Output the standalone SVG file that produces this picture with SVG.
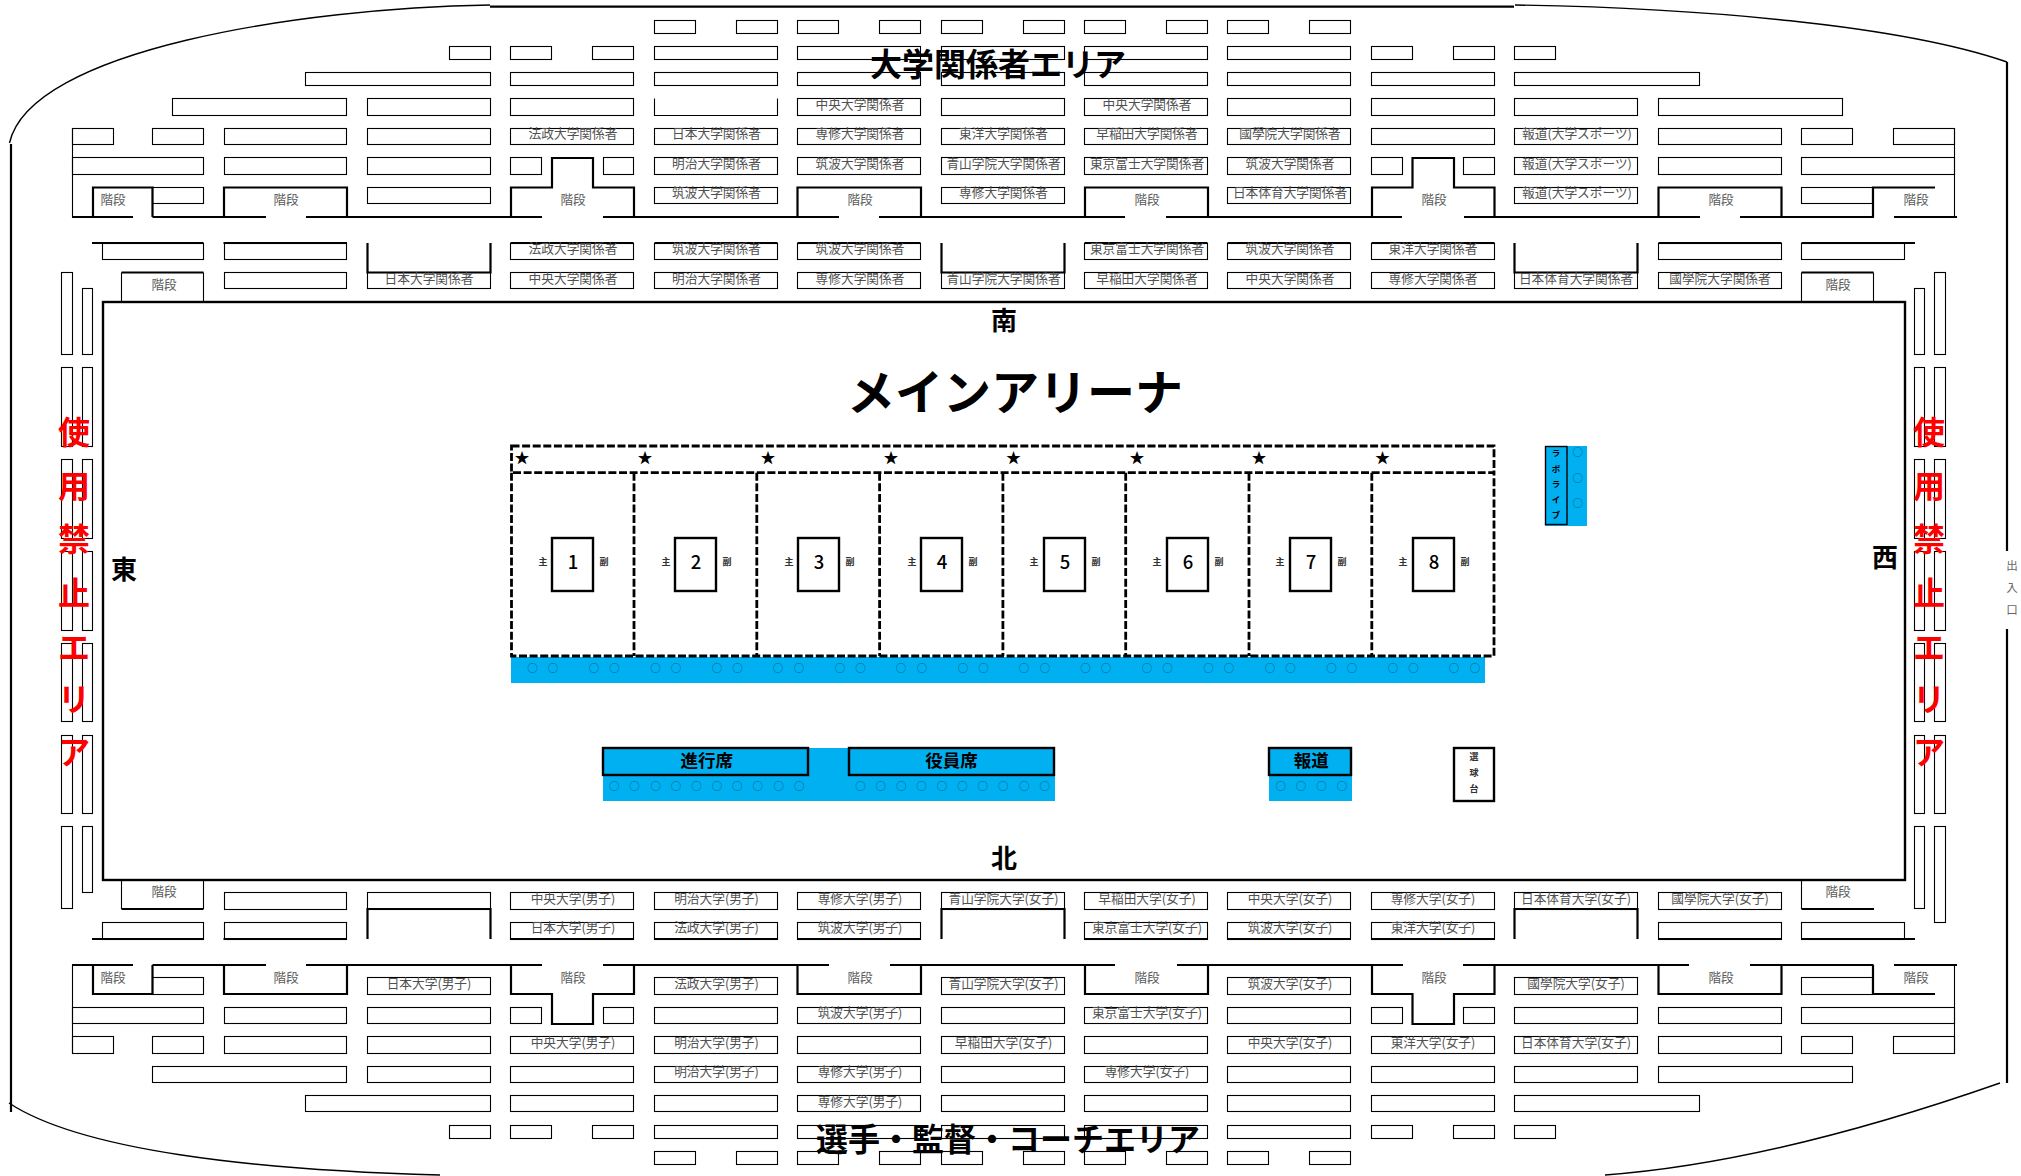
<svg xmlns="http://www.w3.org/2000/svg" width="2021" height="1176" viewBox="0 0 2021 1176">
<style>
text{font-family:"Noto Sans CJK JP","Liberation Sans",sans-serif;text-anchor:middle;dominant-baseline:central;transform:translateY(-1.7px)}
.s rect{fill:none;stroke:#000;stroke-width:1.1}
.o{fill:none;stroke:#000;stroke-width:1.1}
.t{fill:none;stroke:#000;stroke-width:2.2}
.w{fill:none;stroke:#000;stroke-width:1.4}
.d{fill:none;stroke:#000;stroke-width:2.8;stroke-dasharray:8 2.6}
.b{fill:#00B0F0}
.k{fill:none;stroke:#000;stroke-width:2.4}
.l{font-size:12.7px;fill:#505050}
.g{font-size:12.6px;fill:#5a5a5a}
.h{font-size:32px;font-weight:700;fill:#000}
.n{font-size:26px;font-weight:700;fill:#000}
.r{font-size:32px;font-weight:700;fill:#f00}
.c{font-size:18.5px;font-weight:500;fill:#000}
.m{font-size:9px;font-weight:700;fill:#333}
.a{font-size:15px;fill:#000}
.e{font-size:10.5px;font-weight:500;fill:#0a5f85}
.j{font-size:17.5px;font-weight:700;fill:#000}
.v{font-size:8.5px;font-weight:700;fill:#000}
.u{font-size:9px;font-weight:700;fill:#333}
.x{font-size:11.5px;fill:#666}
</style>
<g id="outline">
<path class="w" d="M490 5C300 8 30 50 9.5 143"/>
<path class="w" d="M1515 5C1700 8 1900 25 2007 62"/>
<path class="w" d="M9 1103C80 1150 250 1170 440 1175"/>
<path class="w" d="M2000 1083C1880 1125 1740 1165 1605 1175"/>
<path class="t" d="M490 6.7H1514M11 144V1112M2007 62V551M2007 629V1083"/>
</g>
<g id="seats-top" class="s">
<rect x="654.5" y="20.5" width="41" height="13"/><rect x="736.5" y="20.5" width="41" height="13"/><rect x="797.5" y="20.5" width="41" height="13"/><rect x="879.5" y="20.5" width="41" height="13"/><rect x="941.5" y="20.5" width="41" height="13"/><rect x="1023.5" y="20.5" width="41" height="13"/><rect x="1084.5" y="20.5" width="41" height="13"/><rect x="1166.5" y="20.5" width="41" height="13"/><rect x="1227.5" y="20.5" width="41" height="13"/><rect x="1309.5" y="20.5" width="41" height="13"/>
<rect x="449.5" y="46.5" width="41" height="13"/><rect x="510.5" y="46.5" width="41" height="13"/><rect x="592.5" y="46.5" width="41" height="13"/><rect x="654.5" y="46.5" width="123" height="13"/><rect x="797.5" y="46.5" width="123" height="13"/><rect x="941.5" y="46.5" width="123" height="13"/><rect x="1084.5" y="46.5" width="123" height="13"/><rect x="1227.5" y="46.5" width="123" height="13"/><rect x="1371.5" y="46.5" width="41" height="13"/><rect x="1453.5" y="46.5" width="41" height="13"/><rect x="1514.5" y="46.5" width="41" height="13"/>
<rect x="305.5" y="72.5" width="185" height="13"/><rect x="510.5" y="72.5" width="123" height="13"/><rect x="654.5" y="72.5" width="123" height="13"/><rect x="797.5" y="72.5" width="123" height="13"/><rect x="941.5" y="72.5" width="123" height="13"/><rect x="1084.5" y="72.5" width="123" height="13"/><rect x="1227.5" y="72.5" width="123" height="13"/><rect x="1371.5" y="72.5" width="123" height="13"/><rect x="1514.5" y="72.5" width="185" height="13"/>
<rect x="172.5" y="98.5" width="174" height="17"/><rect x="367.5" y="98.5" width="123" height="17"/><rect x="510.5" y="98.5" width="123" height="17"/><rect x="797.5" y="98.5" width="123" height="17"/><rect x="941.5" y="98.5" width="123" height="17"/><rect x="1084.5" y="98.5" width="123" height="17"/><rect x="1227.5" y="98.5" width="123" height="17"/><rect x="1371.5" y="98.5" width="123" height="17"/><rect x="1514.5" y="98.5" width="123" height="17"/><rect x="1658.5" y="98.5" width="184" height="17"/>
<rect x="72.5" y="128.5" width="41" height="16"/><rect x="152.5" y="128.5" width="51" height="16"/><rect x="224.5" y="128.5" width="122" height="16"/><rect x="367.5" y="128.5" width="123" height="16"/><rect x="510.5" y="128.5" width="123" height="16"/><rect x="654.5" y="128.5" width="123" height="16"/><rect x="797.5" y="128.5" width="123" height="16"/><rect x="941.5" y="128.5" width="123" height="16"/><rect x="1084.5" y="128.5" width="123" height="16"/><rect x="1227.5" y="128.5" width="123" height="16"/><rect x="1371.5" y="128.5" width="123" height="16"/><rect x="1514.5" y="128.5" width="123" height="16"/><rect x="1658.5" y="128.5" width="123" height="16"/><rect x="1801.5" y="128.5" width="51" height="16"/><rect x="1893.5" y="128.5" width="61" height="16"/>
<rect x="72.5" y="157.5" width="131" height="17"/><rect x="224.5" y="157.5" width="122" height="17"/><rect x="367.5" y="157.5" width="123" height="17"/><rect x="510.5" y="157.5" width="31" height="17"/><rect x="603.5" y="157.5" width="30" height="17"/><rect x="654.5" y="157.5" width="123" height="17"/><rect x="797.5" y="157.5" width="123" height="17"/><rect x="941.5" y="157.5" width="123" height="17"/><rect x="1084.5" y="157.5" width="123" height="17"/><rect x="1227.5" y="157.5" width="123" height="17"/><rect x="1371.5" y="157.5" width="31" height="17"/><rect x="1463.5" y="157.5" width="31" height="17"/><rect x="1514.5" y="157.5" width="123" height="17"/><rect x="1658.5" y="157.5" width="123" height="17"/><rect x="1801.5" y="157.5" width="153" height="17"/>
<rect x="152.5" y="187.5" width="51" height="16"/><rect x="367.5" y="187.5" width="123" height="16"/><rect x="654.5" y="187.5" width="123" height="16"/><rect x="941.5" y="187.5" width="123" height="16"/><rect x="1227.5" y="187.5" width="123" height="16"/><rect x="1514.5" y="187.5" width="123" height="16"/><rect x="1801.5" y="187.5" width="71" height="16"/>
<rect x="102.5" y="243.5" width="101" height="16"/><rect x="224.5" y="243.5" width="122" height="16"/><rect x="510.5" y="243.5" width="123" height="16"/><rect x="654.5" y="243.5" width="123" height="16"/><rect x="797.5" y="243.5" width="123" height="16"/><rect x="1084.5" y="243.5" width="123" height="16"/><rect x="1227.5" y="243.5" width="123" height="16"/><rect x="1371.5" y="243.5" width="123" height="16"/><rect x="1658.5" y="243.5" width="123" height="16"/><rect x="1801.5" y="243.5" width="103" height="16"/>
<rect x="224.5" y="272.5" width="122" height="16"/><rect x="367.5" y="272.5" width="123" height="16"/><rect x="510.5" y="272.5" width="123" height="16"/><rect x="654.5" y="272.5" width="123" height="16"/><rect x="797.5" y="272.5" width="123" height="16"/><rect x="941.5" y="272.5" width="123" height="16"/><rect x="1084.5" y="272.5" width="123" height="16"/><rect x="1227.5" y="272.5" width="123" height="16"/><rect x="1371.5" y="272.5" width="123" height="16"/><rect x="1514.5" y="272.5" width="123" height="16"/><rect x="1658.5" y="272.5" width="123" height="16"/>
</g>
<g id="seats-bottom" class="s">
<rect x="224.5" y="892.5" width="122" height="17"/><rect x="367.5" y="892.5" width="123" height="17"/><rect x="510.5" y="892.5" width="123" height="17"/><rect x="654.5" y="892.5" width="123" height="17"/><rect x="797.5" y="892.5" width="123" height="17"/><rect x="941.5" y="892.5" width="123" height="17"/><rect x="1084.5" y="892.5" width="123" height="17"/><rect x="1227.5" y="892.5" width="123" height="17"/><rect x="1371.5" y="892.5" width="123" height="17"/><rect x="1514.5" y="892.5" width="123" height="17"/><rect x="1658.5" y="892.5" width="123" height="17"/>
<rect x="102.5" y="922.5" width="101" height="17"/><rect x="224.5" y="922.5" width="122" height="17"/><rect x="510.5" y="922.5" width="123" height="17"/><rect x="654.5" y="922.5" width="123" height="17"/><rect x="797.5" y="922.5" width="123" height="17"/><rect x="1084.5" y="922.5" width="123" height="17"/><rect x="1227.5" y="922.5" width="123" height="17"/><rect x="1371.5" y="922.5" width="123" height="17"/><rect x="1658.5" y="922.5" width="123" height="17"/><rect x="1801.5" y="922.5" width="103" height="17"/>
<rect x="152.5" y="977.5" width="51" height="17"/><rect x="367.5" y="977.5" width="123" height="17"/><rect x="654.5" y="977.5" width="123" height="17"/><rect x="941.5" y="977.5" width="123" height="17"/><rect x="1227.5" y="977.5" width="123" height="17"/><rect x="1514.5" y="977.5" width="123" height="17"/><rect x="1801.5" y="977.5" width="71" height="17"/>
<rect x="72.5" y="1007.5" width="131" height="16"/><rect x="224.5" y="1007.5" width="122" height="16"/><rect x="367.5" y="1007.5" width="123" height="16"/><rect x="510.5" y="1007.5" width="31" height="16"/><rect x="603.5" y="1007.5" width="30" height="16"/><rect x="654.5" y="1007.5" width="123" height="16"/><rect x="797.5" y="1007.5" width="123" height="16"/><rect x="941.5" y="1007.5" width="123" height="16"/><rect x="1084.5" y="1007.5" width="123" height="16"/><rect x="1227.5" y="1007.5" width="123" height="16"/><rect x="1371.5" y="1007.5" width="31" height="16"/><rect x="1463.5" y="1007.5" width="31" height="16"/><rect x="1514.5" y="1007.5" width="123" height="16"/><rect x="1658.5" y="1007.5" width="123" height="16"/><rect x="1801.5" y="1007.5" width="153" height="16"/>
<rect x="72.5" y="1036.5" width="41" height="17"/><rect x="152.5" y="1036.5" width="51" height="17"/><rect x="224.5" y="1036.5" width="122" height="17"/><rect x="367.5" y="1036.5" width="123" height="17"/><rect x="510.5" y="1036.5" width="123" height="17"/><rect x="654.5" y="1036.5" width="123" height="17"/><rect x="797.5" y="1036.5" width="123" height="17"/><rect x="941.5" y="1036.5" width="123" height="17"/><rect x="1084.5" y="1036.5" width="123" height="17"/><rect x="1227.5" y="1036.5" width="123" height="17"/><rect x="1371.5" y="1036.5" width="123" height="17"/><rect x="1514.5" y="1036.5" width="123" height="17"/><rect x="1658.5" y="1036.5" width="123" height="17"/><rect x="1801.5" y="1036.5" width="51" height="17"/><rect x="1893.5" y="1036.5" width="61" height="17"/>
<rect x="152.5" y="1066.5" width="194" height="16"/><rect x="367.5" y="1066.5" width="123" height="16"/><rect x="510.5" y="1066.5" width="123" height="16"/><rect x="654.5" y="1066.5" width="123" height="16"/><rect x="797.5" y="1066.5" width="123" height="16"/><rect x="941.5" y="1066.5" width="123" height="16"/><rect x="1084.5" y="1066.5" width="123" height="16"/><rect x="1227.5" y="1066.5" width="123" height="16"/><rect x="1371.5" y="1066.5" width="123" height="16"/><rect x="1514.5" y="1066.5" width="123" height="16"/><rect x="1658.5" y="1066.5" width="194" height="16"/>
<rect x="305.5" y="1095.5" width="185" height="16"/><rect x="510.5" y="1095.5" width="123" height="16"/><rect x="654.5" y="1095.5" width="123" height="16"/><rect x="797.5" y="1095.5" width="123" height="16"/><rect x="941.5" y="1095.5" width="123" height="16"/><rect x="1084.5" y="1095.5" width="123" height="16"/><rect x="1227.5" y="1095.5" width="123" height="16"/><rect x="1371.5" y="1095.5" width="123" height="16"/><rect x="1514.5" y="1095.5" width="185" height="16"/>
<rect x="449.5" y="1125.5" width="41" height="13"/><rect x="510.5" y="1125.5" width="41" height="13"/><rect x="592.5" y="1125.5" width="41" height="13"/><rect x="654.5" y="1125.5" width="123" height="13"/><rect x="797.5" y="1125.5" width="123" height="13"/><rect x="941.5" y="1125.5" width="123" height="13"/><rect x="1084.5" y="1125.5" width="123" height="13"/><rect x="1227.5" y="1125.5" width="123" height="13"/><rect x="1371.5" y="1125.5" width="41" height="13"/><rect x="1453.5" y="1125.5" width="41" height="13"/><rect x="1514.5" y="1125.5" width="41" height="13"/>
<rect x="654.5" y="1151.5" width="41" height="13"/><rect x="736.5" y="1151.5" width="41" height="13"/><rect x="797.5" y="1151.5" width="41" height="13"/><rect x="879.5" y="1151.5" width="41" height="13"/><rect x="941.5" y="1151.5" width="41" height="13"/><rect x="1023.5" y="1151.5" width="41" height="13"/><rect x="1084.5" y="1151.5" width="41" height="13"/><rect x="1166.5" y="1151.5" width="41" height="13"/><rect x="1227.5" y="1151.5" width="41" height="13"/><rect x="1309.5" y="1151.5" width="41" height="13"/>
</g>
<g id="side-strips" class="s">
<rect x="61.5" y="272.5" width="11" height="82"/><rect x="61.5" y="367.5" width="11" height="79"/><rect x="61.5" y="459.5" width="11" height="79"/><rect x="61.5" y="551.5" width="11" height="79"/><rect x="61.5" y="643.5" width="11" height="78"/><rect x="61.5" y="735.5" width="11" height="78"/><rect x="61.5" y="826.5" width="11" height="82"/>
<rect x="82.5" y="288.5" width="10" height="66"/><rect x="82.5" y="367.5" width="10" height="79"/><rect x="82.5" y="459.5" width="10" height="79"/><rect x="82.5" y="551.5" width="10" height="79"/><rect x="82.5" y="643.5" width="10" height="78"/><rect x="82.5" y="735.5" width="10" height="78"/><rect x="82.5" y="826.5" width="10" height="66"/>
<rect x="1914.5" y="288.5" width="10" height="66"/><rect x="1914.5" y="367.5" width="10" height="79"/><rect x="1914.5" y="459.5" width="10" height="79"/><rect x="1914.5" y="551.5" width="10" height="79"/><rect x="1914.5" y="643.5" width="10" height="78"/><rect x="1914.5" y="735.5" width="10" height="78"/><rect x="1914.5" y="826.5" width="10" height="82"/>
<rect x="1934.5" y="272.5" width="11" height="82"/><rect x="1934.5" y="367.5" width="11" height="79"/><rect x="1934.5" y="459.5" width="11" height="79"/><rect x="1934.5" y="551.5" width="11" height="79"/><rect x="1934.5" y="643.5" width="11" height="78"/><rect x="1934.5" y="735.5" width="11" height="78"/><rect x="1934.5" y="826.5" width="11" height="96"/>
</g>
<g id="walls">
<path class="o" d="M654.5 98.5V115.5H777.5V98.5M72.5 128V217M1954.5 128V217M72.5 965V1053M1954.5 965V1053M121.5 272.5V301M203.5 272.5V301M1801.5 272.5V301M1873.5 272.5V301M121.5 880V909M203.5 880V909M1801.5 880V909"/>
<path class="t" d="M72 217H133M152.5 217H266M306 217H542M603 217H839M879 217H1125M1166 217H1402M1464 217H1700M1740 217H1874M1894 217H1957"/>
<path class="t" d="M93 217V187.5H152.5V217M224 217V187.5H347V217M511 217V187.5H552V158H593V187.5H634V217M797.5 217V187.5H921V217M1085 217V187.5H1208V217M1372 217V187.5H1412.5V158H1454V187.5H1494.5V217M1658.5 217V187.5H1781.5V217M1873 217V187.5H1935"/>
<path class="t" d="M92 243H203.5M223.5 243H347M510.5 243H633.5M654.5 243H777.5M797.5 243H920.5M1084.5 243H1207.5M1227.5 243H1350.5M1371.5 243H1494.5M1658.5 243H1781.5M1801.5 243H1915"/>
<path class="t" d="M367.5 243V272.5H490.5V243M941.5 243V272.5H1064.5V243M1514.5 243V272.5H1637.5V243M121.5 272.5H203.5M1801.5 272.5H1873.5"/>
<path class="t" d="M121.5 909H203.5M1801.5 909H1874M92 939H203.5M223.5 939H347M510.5 939H633.5M654.5 939H777.5M797.5 939H920.5M1084.5 939H1207.5M1227.5 939H1350.5M1371.5 939H1494.5M1658.5 939H1781.5M1801.5 939H1915"/>
<path class="t" d="M367.5 939V909H490.5V939M941.5 939V909H1064.5V939M1514.5 939V909H1637.5V939"/>
<path class="t" d="M72 965H133M152.5 965H266M306 965H542M603 965H829M890 965H1115M1177 965H1403M1463 965H1689M1750 965H1873.5M1894 965H1957"/>
<path class="t" d="M93 965V994H152.5V965M224 965V994H347V965M511 965V994H552V1024H593V994H634V965M797.5 965V994H921V965M1085 965V994H1208V965M1372 965V994H1412.5V1024H1454V994H1494.5V965M1658.5 965V994H1781.5V965M1873 965V994H1935"/>
<rect class="k" x="103" y="302" width="1802" height="578"/>
</g>
<g id="stair-labels" class="g">
<text x="113" y="200">階段</text><text x="286" y="200">階段</text><text x="573" y="200">階段</text><text x="860" y="200">階段</text><text x="1147" y="200">階段</text><text x="1434" y="200">階段</text><text x="1721" y="200">階段</text><text x="1916" y="200">階段</text>
<text x="164" y="285">階段</text><text x="1838" y="285">階段</text><text x="164" y="892.7">階段</text><text x="1838" y="892.7">階段</text>
<text x="113" y="978">階段</text><text x="286" y="978">階段</text><text x="573" y="978">階段</text><text x="860" y="978">階段</text><text x="1147" y="978">階段</text><text x="1434" y="978">階段</text><text x="1721" y="978">階段</text><text x="1916" y="978">階段</text>
</g>
<g id="seat-labels-top" class="l">
<text x="860" y="105.3">中央大学関係者</text><text x="1147" y="105.3">中央大学関係者</text>
<text x="573" y="134.7">法政大学関係者</text><text x="716.5" y="134.7">日本大学関係者</text><text x="860" y="134.7">専修大学関係者</text><text x="1003.5" y="134.7">東洋大学関係者</text><text x="1147" y="134.7">早稲田大学関係者</text><text x="1290" y="134.7">國學院大学関係者</text><text x="1577" y="134.7">報道(大学スポーツ)</text>
<text x="716.5" y="164">明治大学関係者</text><text x="860" y="164">筑波大学関係者</text><text x="1003.5" y="164">青山学院大学関係者</text><text x="1147" y="164">東京富士大学関係者</text><text x="1290" y="164">筑波大学関係者</text><text x="1577" y="164">報道(大学スポーツ)</text>
<text x="716.5" y="193.3">筑波大学関係者</text><text x="1003.5" y="193.3">専修大学関係者</text><text x="1290" y="193.3">日本体育大学関係者</text><text x="1577" y="193.3">報道(大学スポーツ)</text>
<text x="573" y="249.3">法政大学関係者</text><text x="716.5" y="249.3">筑波大学関係者</text><text x="860" y="249.3">筑波大学関係者</text><text x="1147" y="249.3">東京富士大学関係者</text><text x="1290" y="249.3">筑波大学関係者</text><text x="1433" y="249.3">東洋大学関係者</text>
<text x="429" y="279.3">日本大学関係者</text><text x="573" y="279.3">中央大学関係者</text><text x="716.5" y="279.3">明治大学関係者</text><text x="860" y="279.3">専修大学関係者</text><text x="1003.5" y="279.3">青山学院大学関係者</text><text x="1147" y="279.3">早稲田大学関係者</text><text x="1290" y="279.3">中央大学関係者</text><text x="1433" y="279.3">専修大学関係者</text><text x="1576" y="279.3">日本体育大学関係者</text><text x="1720" y="279.3">國學院大学関係者</text>
</g>
<g id="seat-labels-bottom" class="l">
<text x="573" y="899.3">中央大学(男子)</text><text x="716.5" y="899.3">明治大学(男子)</text><text x="860" y="899.3">専修大学(男子)</text><text x="1003.5" y="899.3">青山学院大学(女子)</text><text x="1147" y="899.3">早稲田大学(女子)</text><text x="1290" y="899.3">中央大学(女子)</text><text x="1433" y="899.3">専修大学(女子)</text><text x="1576" y="899.3">日本体育大学(女子)</text><text x="1720" y="899.3">國學院大学(女子)</text>
<text x="573" y="928.3">日本大学(男子)</text><text x="716.5" y="928.3">法政大学(男子)</text><text x="860" y="928.3">筑波大学(男子)</text><text x="1147" y="928.3">東京富士大学(女子)</text><text x="1290" y="928.3">筑波大学(女子)</text><text x="1433" y="928.3">東洋大学(女子)</text>
<text x="429" y="984.3">日本大学(男子)</text><text x="716.5" y="984.3">法政大学(男子)</text><text x="1003.5" y="984.3">青山学院大学(女子)</text><text x="1290" y="984.3">筑波大学(女子)</text><text x="1576" y="984.3">國學院大学(女子)</text>
<text x="860" y="1013.3">筑波大学(男子)</text><text x="1147" y="1013.3">東京富士大学(女子)</text>
<text x="573" y="1043">中央大学(男子)</text><text x="716.5" y="1043">明治大学(男子)</text><text x="1003.5" y="1043">早稲田大学(女子)</text><text x="1290" y="1043">中央大学(女子)</text><text x="1433" y="1043">東洋大学(女子)</text><text x="1576" y="1043">日本体育大学(女子)</text>
<text x="716.5" y="1072">明治大学(男子)</text><text x="860" y="1072">専修大学(男子)</text><text x="1147" y="1072">専修大学(女子)</text>
<text x="860" y="1102.7">専修大学(男子)</text>
</g>
<g id="courts">
<rect class="b" x="511" y="657" width="974" height="26"/>
<path class="d" d="M511.5 446H1494V472.7H511.5ZM511.5 472.7V656H1494V472.7M634 472.7V656M756.8 472.7V656M879.6 472.7V656M1002.9 472.7V656M1125.7 472.7V656M1249 472.7V656M1371.8 472.7V656"/>
<g class="k"><rect x="552" y="538" width="41" height="53"/><rect x="675" y="538" width="41" height="53"/><rect x="798" y="538" width="41" height="53"/><rect x="921" y="538" width="41" height="53"/><rect x="1044" y="538" width="41" height="53"/><rect x="1167" y="538" width="41" height="53"/><rect x="1290" y="538" width="41" height="53"/><rect x="1413" y="538" width="41" height="53"/></g>
<g class="c"><text x="573" y="563">1</text><text x="696" y="563">2</text><text x="819" y="563">3</text><text x="942" y="563">4</text><text x="1065" y="563">5</text><text x="1188" y="563">6</text><text x="1311" y="563">7</text><text x="1434" y="563">8</text></g>
<g class="m"><text x="543" y="563">主</text><text x="666" y="563">主</text><text x="789" y="563">主</text><text x="912" y="563">主</text><text x="1034" y="563">主</text><text x="1157" y="563">主</text><text x="1280" y="563">主</text><text x="1403" y="563">主</text>
<text x="604" y="563">副</text><text x="727" y="563">副</text><text x="850" y="563">副</text><text x="973" y="563">副</text><text x="1096" y="563">副</text><text x="1219" y="563">副</text><text x="1342" y="563">副</text><text x="1465" y="563">副</text></g>
<g class="a"><text x="522" y="458.7">★</text><text x="645" y="458.7">★</text><text x="768" y="458.7">★</text><text x="891" y="458.7">★</text><text x="1013.5" y="458.7">★</text><text x="1137" y="458.7">★</text><text x="1259" y="458.7">★</text><text x="1382.5" y="458.7">★</text></g>
<g class="e"><text x="532.5" y="669">○</text><text x="553" y="669">○</text><text x="594" y="669">○</text><text x="614.5" y="669">○</text><text x="655.5" y="669">○</text><text x="676" y="669">○</text><text x="717" y="669">○</text><text x="737.5" y="669">○</text><text x="778" y="669">○</text><text x="799" y="669">○</text><text x="840" y="669">○</text><text x="860.5" y="669">○</text><text x="901" y="669">○</text><text x="922" y="669">○</text><text x="963" y="669">○</text><text x="983.5" y="669">○</text><text x="1024" y="669">○</text><text x="1045" y="669">○</text><text x="1085.5" y="669">○</text><text x="1106" y="669">○</text><text x="1147" y="669">○</text><text x="1167.5" y="669">○</text><text x="1208.5" y="669">○</text><text x="1229" y="669">○</text><text x="1270" y="669">○</text><text x="1290.5" y="669">○</text><text x="1331.5" y="669">○</text><text x="1352" y="669">○</text><text x="1393" y="669">○</text><text x="1413.5" y="669">○</text><text x="1454" y="669">○</text><text x="1475" y="669">○</text></g>
</g>
<g id="live">
<rect class="b" x="1545" y="446" width="42" height="80"/>
<rect class="w" x="1545.5" y="446.5" width="21.5" height="78"/>
<g class="v"><text x="1556" y="454">ラ</text><text x="1556" y="469.5">ボ</text><text x="1556" y="485">ラ</text><text x="1556" y="501">イ</text><text x="1556" y="516">ブ</text></g>
<g class="e"><text x="1577.7" y="453">○</text><text x="1577.7" y="479">○</text><text x="1577.7" y="504.5">○</text></g>
</g>
<g id="tables">
<rect class="b" x="603" y="748" width="452" height="53"/><rect class="b" x="1269" y="748" width="83" height="53"/>
<g class="k"><rect x="603" y="748" width="205" height="27"/><rect x="849" y="748" width="205" height="27"/><rect x="1269" y="748" width="82" height="27"/><rect x="1454" y="748" width="40" height="53"/></g>
<g class="j"><text x="706.7" y="761">進行席</text><text x="951.6" y="761">役員席</text><text x="1311.3" y="761">報道</text></g>
<g class="u"><text x="1474" y="758.5">選</text><text x="1474" y="774">球</text><text x="1474" y="790.5">台</text></g>
<g class="e"><text x="614.2" y="787">○</text><text x="634.6" y="787">○</text><text x="655.7" y="787">○</text><text x="676" y="787">○</text><text x="696.5" y="787">○</text><text x="716.9" y="787">○</text><text x="737.3" y="787">○</text><text x="757.7" y="787">○</text><text x="778.8" y="787">○</text><text x="799.2" y="787">○</text>
<text x="860.4" y="787">○</text><text x="880.8" y="787">○</text><text x="901.2" y="787">○</text><text x="921.6" y="787">○</text><text x="942" y="787">○</text><text x="962.4" y="787">○</text><text x="982.8" y="787">○</text><text x="1003.2" y="787">○</text><text x="1024.3" y="787">○</text><text x="1044.7" y="787">○</text>
<text x="1280.7" y="787">○</text><text x="1301" y="787">○</text><text x="1321.5" y="787">○</text><text x="1341.9" y="787">○</text></g>
</g>
<g id="titles">
<text class="h" x="998" y="64">大学関係者エリア</text>
<text class="h" x="1008" y="1138.5">選手・監督・コーチエリア</text>
<text x="1015" y="391" style="font-size:48px;font-weight:700">メインアリーナ</text>
<text class="n" x="1004" y="320">南</text><text class="n" x="1004" y="858">北</text><text class="n" x="124" y="569">東</text><text class="n" x="1885" y="557">西</text>
</g>
<g id="no-use-left" class="r"><text x="74" y="432">使</text><text x="74" y="486">用</text><text x="74" y="539">禁</text><text x="74" y="593">止</text><text x="74" y="647">エ</text><text x="74" y="699">リ</text><text x="74" y="752">ア</text></g>
<g id="no-use-right" class="r"><text x="1929" y="432">使</text><text x="1929" y="486">用</text><text x="1929" y="539">禁</text><text x="1929" y="593">止</text><text x="1929" y="647">エ</text><text x="1929" y="699">リ</text><text x="1929" y="752">ア</text></g>
<g id="entrance" class="x"><text x="2012" y="566.6">出</text><text x="2012" y="589">入</text><text x="2012" y="610.8">口</text></g>
</svg>
